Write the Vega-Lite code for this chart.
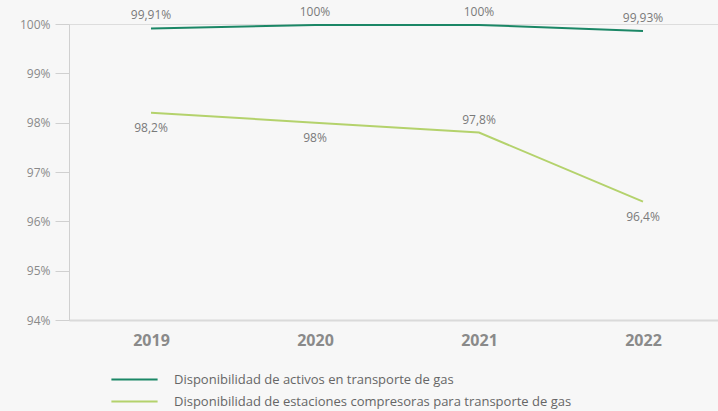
{
  "$schema": "https://vega.github.io/schema/vega-lite/v6.json",
  "width": 656,
  "height": 296,
  "autosize": {"type": "none"},
  "padding": {"left": 69, "top": 24, "right": 0, "bottom": 91},
  "background": "#f7f7f7",
  "data": {
    "values": [
      {"year": "2019", "serie": "Disponibilidad de activos en transporte de gas", "value": 99.91, "label": "99,91%"},
      {"year": "2020", "serie": "Disponibilidad de activos en transporte de gas", "value": 99.98, "label": "100%"},
      {"year": "2021", "serie": "Disponibilidad de activos en transporte de gas", "value": 99.98, "label": "100%"},
      {"year": "2022", "serie": "Disponibilidad de activos en transporte de gas", "value": 99.86, "label": "99,93%"},
      {"year": "2019", "serie": "Disponibilidad de estaciones compresoras para transporte de gas", "value": 98.2, "label": "98,2%"},
      {"year": "2020", "serie": "Disponibilidad de estaciones compresoras para transporte de gas", "value": 98, "label": "98%"},
      {"year": "2021", "serie": "Disponibilidad de estaciones compresoras para transporte de gas", "value": 97.8, "label": "97,8%"},
      {"year": "2022", "serie": "Disponibilidad de estaciones compresoras para transporte de gas", "value": 96.4, "label": "96,4%"}
    ]
  },
  "encoding": {
    "x": {
      "field": "year", "type": "ordinal",
      "scale": {"type": "point", "padding": 0.5},
      "axis": {
        "title": null, "labelAngle": 0, "ticks": false, "labelPadding": 12,
        "labelFont": "Open Sans", "labelFontSize": 16, "labelFontWeight": "bold", "labelColor": "#8a8a8a",
        "domainColor": "#dadada", "domainWidth": 2
      }
    },
    "y": {
      "field": "value", "type": "quantitative",
      "scale": {"domain": [94, 100], "nice": false, "zero": false},
      "axis": {
        "title": null, "values": [94, 95, 96, 97, 98, 99, 100],
        "labelExpr": "datum.value + '%'", "grid": false,
        "tickSize": 14, "tickColor": "#d0d0d0", "domainColor": "#d0d0d0",
        "labelPadding": 5, "labelFont": "Open Sans", "labelFontSize": 12, "labelColor": "#8a8a8a"
      }
    }
  },
  "layer": [
    {
      "mark": {"type": "line", "strokeWidth": 2},
      "encoding": {
        "color": {
          "field": "serie", "type": "nominal",
          "scale": {
            "domain": ["Disponibilidad de activos en transporte de gas", "Disponibilidad de estaciones compresoras para transporte de gas"],
            "range": ["#1b8766", "#b4d26c"]
          },
          "legend": {
            "title": null, "orient": "none", "legendX": 54, "legendY": 344,
            "symbolType": "M-2.2,0H2.2", "symbolSize": 441, "symbolStrokeWidth": 2,
            "labelFont": "Open Sans", "labelFontSize": 13, "labelColor": "#666666",
            "labelOffset": 28, "rowPadding": 3, "labelLimit": 600
          }
        }
      }
    },
    {
      "transform": [{"filter": "datum.value > 99 || datum.year == '2021'"}],
      "mark": {"type": "text", "dy": -13, "font": "Open Sans", "fontSize": 12, "color": "#7a7a7a"},
      "encoding": {"text": {"field": "label"}}
    },
    {
      "transform": [{"filter": "datum.value < 99 && datum.year != '2021'"}],
      "mark": {"type": "text", "dy": 15, "font": "Open Sans", "fontSize": 12, "color": "#7a7a7a"},
      "encoding": {"text": {"field": "label"}}
    }
  ]
}
